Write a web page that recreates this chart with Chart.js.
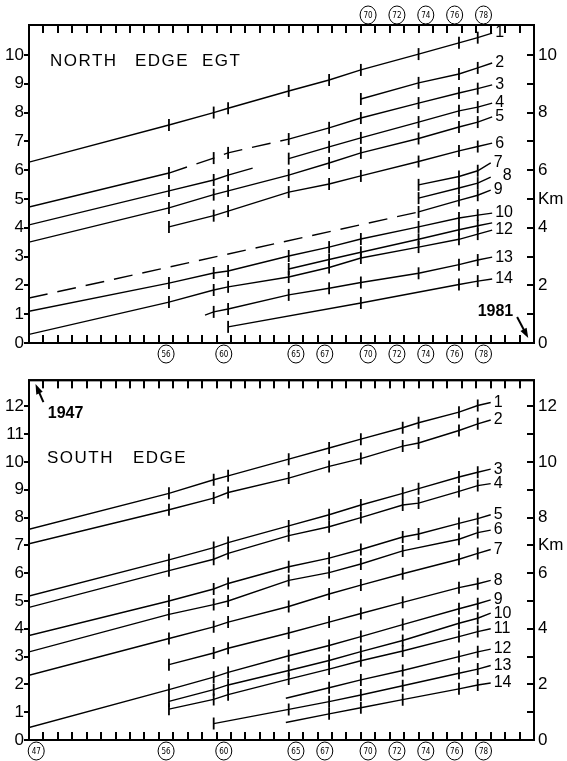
<!DOCTYPE html>
<html>
<head>
<meta charset="utf-8">
<script src="https://cdn.jsdelivr.net/npm/chart.js@4/dist/chart.umd.min.js"></script>
<style>
  html, body { margin: 0; padding: 0; background: #fff; }
  canvas { position: absolute; left: 0; }
  #north { top: 0; }
  #south { top: 365px; }
</style>
</head>
<body>
<canvas id="north" width="567" height="365"></canvas>
<canvas id="south" width="567" height="396"></canvas>
<script>
// survey epochs (year - 1900) where a position mark is drawn on a line
const epochs = [46.5, 56.2, 59.3, 60.3, 64.5, 67.3, 69.5, 72.4, 73.5, 76.3, 77.6];

// small inward ticks along top and bottom edges
const yearTicks = [47.5, 48.5, 49.5, 50.5, 51.5, 52.5, 53.5, 54.5, 55.5, 56.5, 57.5, 58.5,
  59.5, 60.5, 61.5, 62.5, 63.5, 64.5, 65.5, 66.5, 67.5, 68.5, 69.5, 70.5, 71.5, 72.5,
  73.5, 74.5, 75.5, 76.5, 77.5, 78.5, 79.5, 80.5];

const northTopYears = [70, 72, 74, 76, 78];
const northBottomYears = [56, 60, 65, 67, 70, 72, 74, 76, 78];
const southBottomYears = [47, 56, 60, 65, 67, 70, 72, 74, 76, 78];

const northKmTicks = [0, 1, 2, 3, 4, 5, 6, 7, 8, 9, 10];
const southKmTicks = [0, 1, 2, 3, 4, 5, 6, 7, 8, 9, 10, 11, 12];

// NORTH EDGE EGT  — [year, km]
const north1 = [[46.5, 6.28], [56.2, 7.57], [59.3, 8.0], [60.3, 8.15], [64.5, 8.75], [67.3, 9.13], [69.5, 9.48], [73.5, 10.03], [76.3, 10.42], [77.6, 10.6], [78.6, 10.76]];
const north2 = [[69.5, 8.47], [73.5, 9.03], [76.3, 9.34], [77.6, 9.55], [78.6, 9.72]];
const north3 = [[46.5, 4.72], [56.2, 5.9], [59.3, 6.42], [60.3, 6.6], [64.5, 7.08], [67.3, 7.47], [69.5, 7.81], [73.5, 8.33], [76.3, 8.68], [77.6, 8.83], [78.6, 8.96]];
const north4 = [[64.5, 6.4], [67.3, 6.81], [69.5, 7.12], [73.5, 7.67], [76.3, 8.06], [77.6, 8.19], [78.6, 8.33]];
const north5 = [[46.5, 3.5], [56.2, 4.69], [59.3, 5.15], [60.3, 5.28], [64.5, 5.83], [67.3, 6.25], [69.5, 6.6], [73.5, 7.1], [76.3, 7.5], [77.6, 7.67], [78.6, 7.85]];
const north6 = [[56.2, 4.03], [59.3, 4.42], [60.3, 4.58], [64.5, 5.24], [67.3, 5.52], [69.5, 5.8], [73.5, 6.3], [76.3, 6.67], [77.6, 6.82], [78.6, 6.94]];
const northLost = [[46.5, 4.1], [56.2, 5.28], [59.3, 5.66], [60.3, 5.83], [62.0, 6.07]];
const north7 = [[73.5, 5.49], [76.3, 5.78], [77.6, 5.98], [78.5, 6.25]];
const north8 = [[73.5, 5.03], [76.3, 5.38], [77.6, 5.55], [78.5, 5.76]];
const north9 = [[46.5, 1.56], [73.5, 4.55], [76.3, 4.95], [77.6, 5.13], [78.5, 5.31]];
const north10 = [[46.5, 1.1], [56.2, 2.08], [59.3, 2.43], [60.3, 2.5], [64.5, 3.02], [67.3, 3.33], [69.5, 3.61], [73.5, 4.03], [76.3, 4.34], [77.6, 4.44], [78.6, 4.51]];
const north11 = [[64.5, 2.57], [67.3, 2.9], [69.5, 3.15], [73.5, 3.6], [76.3, 3.93], [77.6, 4.07], [78.6, 4.17]];
const north12 = [[46.5, 0.3], [56.2, 1.42], [59.3, 1.84], [60.3, 1.95], [64.5, 2.29], [67.3, 2.62], [69.5, 2.95], [73.5, 3.33], [76.3, 3.6], [77.6, 3.78], [78.6, 3.92]];
const north13 = [[58.7, 0.97], [59.3, 1.08], [60.3, 1.18], [64.5, 1.67], [67.3, 1.9], [69.5, 2.1], [73.5, 2.42], [76.3, 2.72], [77.6, 2.88], [78.6, 2.98]];
const north14 = [[60.3, 0.56], [69.5, 1.39], [76.3, 2.03], [77.6, 2.15], [78.6, 2.22]];

const northLines = [north1, north2, north3, north4, north5, north6, northLost, north7, north8, north9, north10, north11, north12, north13, north14];
const northNames = ['1', '2', '3', '4', '5', '6', '', '7', '8', '9', '10', '', '12', '13', '14'];
// [line index, from year, to year] drawn dashed
const northDashed = [[2, 56.2, 64.5], [9, 46.5, 73.5]];

// SOUTH EDGE — [year, km]
const south1 = [[46.5, 7.58], [56.2, 8.87], [59.3, 9.36], [60.3, 9.5], [64.5, 10.1], [67.3, 10.5], [69.5, 10.82], [72.4, 11.23], [73.5, 11.41], [76.3, 11.79], [77.6, 12.03], [78.5, 12.14]];
const south2 = [[46.5, 7.06], [56.2, 8.28], [59.3, 8.7], [60.3, 8.9], [64.5, 9.42], [67.3, 9.84], [69.5, 10.12], [72.4, 10.57], [73.5, 10.68], [76.3, 11.13], [77.6, 11.37], [78.5, 11.51]];
const south3 = [[46.5, 5.18], [56.2, 6.48], [59.3, 6.92], [60.3, 7.1], [64.5, 7.7], [67.3, 8.1], [69.5, 8.45], [72.4, 8.87], [73.5, 9.04], [76.3, 9.46], [77.6, 9.63], [78.5, 9.74]];
const south4 = [[46.5, 4.77], [56.2, 6.09], [59.3, 6.5], [60.3, 6.71], [64.5, 7.35], [67.3, 7.67], [69.5, 8.0], [72.4, 8.45], [73.5, 8.52], [76.3, 8.94], [77.6, 9.15], [78.5, 9.22]];
const south5 = [[46.5, 3.76], [56.2, 5.0], [59.3, 5.43], [60.3, 5.63], [64.5, 6.23], [67.3, 6.54], [69.5, 6.85], [72.4, 7.3], [73.5, 7.41], [76.3, 7.79], [77.6, 7.96], [78.5, 8.1]];
const south6 = [[46.5, 3.17], [56.2, 4.52], [59.3, 4.87], [60.3, 5.0], [64.5, 5.74], [67.3, 6.02], [69.5, 6.33], [72.4, 6.8], [76.3, 7.22], [77.6, 7.46], [78.5, 7.55]];
const south7 = [[46.5, 2.33], [56.2, 3.65], [59.3, 4.07], [60.3, 4.24], [64.5, 4.8], [67.3, 5.25], [69.5, 5.57], [72.4, 5.98], [76.3, 6.5], [77.6, 6.71], [78.5, 6.85]];
const south8 = [[56.2, 2.71], [59.3, 3.13], [60.3, 3.3], [64.5, 3.85], [67.3, 4.24], [69.5, 4.55], [72.4, 4.95], [76.3, 5.48], [77.6, 5.62], [78.5, 5.74]];
const south9 = [[46.5, 0.45], [56.2, 1.81], [59.3, 2.26], [60.3, 2.43], [64.5, 3.03], [67.3, 3.4], [69.5, 3.72], [72.4, 4.15], [76.3, 4.72], [77.6, 4.9], [78.5, 5.04]];
const south10 = [[56.2, 1.39], [59.3, 1.81], [60.3, 1.98], [64.5, 2.5], [67.3, 2.86], [69.5, 3.18], [72.4, 3.58], [76.3, 4.2], [77.6, 4.38], [78.5, 4.56]];
const south11 = [[56.2, 1.11], [59.3, 1.46], [60.3, 1.63], [64.5, 2.19], [67.3, 2.55], [69.5, 2.85], [72.4, 3.2], [76.3, 3.72], [77.6, 3.9], [78.5, 4.0]];
const south12 = [[64.3, 1.5], [67.3, 1.88], [69.5, 2.16], [72.4, 2.5], [76.3, 3.0], [77.6, 3.17], [78.5, 3.27]];
const south13 = [[59.3, 0.59], [64.5, 1.1], [67.3, 1.38], [69.5, 1.62], [72.4, 1.95], [76.3, 2.4], [77.6, 2.55], [78.5, 2.68]];
const south14 = [[64.3, 0.63], [67.3, 0.94], [69.5, 1.16], [72.4, 1.45], [76.3, 1.84], [77.6, 1.98], [78.5, 2.05]];

const southLines = [south1, south2, south3, south4, south5, south6, south7, south8, south9, south10, south11, south12, south13, south14];
const southNames = ['1', '2', '3', '4', '5', '6', '7', '8', '9', '10', '11', '12', '13', '14'];

const FONT = '"Liberation Sans", Arial, sans-serif';

function isDashed(spans, i, a, b) {
  return spans.some(s => s[0] === i && a >= s[1] - 0.01 && b <= s[2] + 0.01);
}

function arrow(ctx, x0, y0, x1, y1) {
  const ang = Math.atan2(y1 - y0, x1 - x0);
  ctx.beginPath();
  ctx.lineWidth = 2;
  ctx.moveTo(x0, y0);
  ctx.lineTo(x1 - 6 * Math.cos(ang), y1 - 6 * Math.sin(ang));
  ctx.stroke();
  ctx.beginPath();
  ctx.moveTo(x1, y1);
  ctx.lineTo(x1 - 10 * Math.cos(ang) + 3.5 * Math.sin(ang), y1 - 10 * Math.sin(ang) - 3.5 * Math.cos(ang));
  ctx.lineTo(x1 - 10 * Math.cos(ang) - 3.5 * Math.sin(ang), y1 - 10 * Math.sin(ang) + 3.5 * Math.cos(ang));
  ctx.closePath();
  ctx.fill();
}

function circled(ctx, cx, cy, txt) {
  ctx.beginPath();
  ctx.lineWidth = 1;
  ctx.ellipse(cx, cy, 8, 9, 0, 0, Math.PI * 2);
  ctx.stroke();
  ctx.font = '8px "DejaVu Sans Condensed", ' + FONT;
  ctx.textAlign = 'center';
  ctx.textBaseline = 'middle';
  ctx.fillText(txt, cx, cy + 0.5);
}

// frame and all tick marks, placed through the chart's scales
function drawFrameTicks(chart, kmTicks) {
  const { ctx, chartArea: a, scales: { x, y } } = chart;
  ctx.save();
  ctx.setLineDash([]);
  ctx.fillStyle = '#000';
  ctx.strokeStyle = '#000';
  ctx.lineWidth = 2;
  ctx.strokeRect(a.left, a.top, a.right - a.left, a.bottom - a.top);
  yearTicks.forEach(v => {
    const px = Math.round(x.getPixelForValue(v));
    ctx.fillRect(px - 1, a.bottom - 8, 2, 8);
    ctx.fillRect(px - 1, a.top, 2, 8);
  });
  (kmTicks || []).forEach(v => {
    const py = Math.round(y.getPixelForValue(v));
    ctx.fillRect(a.left - 5, py - 1, 5, 2);
    ctx.fillRect(a.right - 7, py - 1, 8, 2);
  });
  ctx.restore();
}

const decor = {
  id: 'decor',
  afterDraw(chart, args, o) {
    const { ctx, chartArea: a, scales: { x, y } } = chart;
    drawFrameTicks(chart, o.kmTicks);

    ctx.save();
    ctx.strokeStyle = '#000';
    ctx.fillStyle = '#000';

    // circled year labels
    (o.topYears || []).forEach(v => circled(ctx, x.getPixelForValue(v), a.top - 10, String(v)));
    (o.bottomYears || []).forEach(v => circled(ctx, x.getPixelForValue(v), a.bottom + 11, String(v)));

    // line numbers at the right end
    ctx.font = '16px ' + FONT;
    ctx.textAlign = 'left';
    ctx.textBaseline = 'middle';
    chart.data.datasets.forEach((ds, i) => {
      const name = o.names[i];
      if (!name) return;
      const meta = chart.getDatasetMeta(i);
      const el = meta.data[meta.data.length - 1];
      const sh = (o.shift && o.shift[name]) || [0, 0];
      ctx.fillText(name, el.x + 3 + sh[0], el.y + sh[1]);
    });

    // panel title
    ctx.font = '17px ' + FONT;
    ctx.letterSpacing = '1.5px';
    ctx.textBaseline = 'middle';
    o.title.forEach(w => ctx.fillText(w[0], a.left + w[1], a.top + o.titleY));
    ctx.letterSpacing = '0px';

    // year arrows
    ctx.font = 'bold 16px ' + FONT;
    (o.notes || []).forEach(n => {
      arrow(ctx, x.getPixelForValue(n.tail[0]), y.getPixelForValue(n.tail[1]),
        x.getPixelForValue(n.tip[0]), y.getPixelForValue(n.tip[1]));
      ctx.textAlign = n.align;
      ctx.fillText(n.text, x.getPixelForValue(n.at[0]), y.getPixelForValue(n.at[1]));
    });
    ctx.restore();
  }
};

function makeChart(id, lines, o) {
  const datasets = lines.map((pts, i) => ({
    data: pts.map(p => ({ x: p[0], y: p[1] })),
    showLine: true,
    borderColor: '#000',
    borderWidth: 1.4,
    pointStyle: 'line',
    pointRotation: 90,
    pointRadius: c => (c.raw && epochs.includes(c.raw.x)) ? 6 : 0,
    pointBorderColor: '#000',
    pointBorderWidth: 1.8,
    segment: {
      borderDash: c => isDashed(o.dashed || [], i, c.p0.parsed.x, c.p1.parsed.x) ? [19, 10] : undefined
    }
  }));

  const chart = new Chart(document.getElementById(id), {
    type: 'scatter',
    data: { datasets },
    options: {
      responsive: false,
      animation: false,
      devicePixelRatio: 1,
      events: [],
      layout: { padding: { top: o.padTop, left: 0, right: 0, bottom: 0 } },
      plugins: {
        legend: { display: false },
        tooltip: { enabled: false },
        decor: o
      },
      scales: {
        x: {
          type: 'linear', min: 46.5, max: 81.5,
          grid: { display: false }, ticks: { display: false }, border: { display: false },
          afterFit: s => { s.height = o.axisH; }
        },
        y: {
          position: 'left', min: 0, max: o.ymax,
          afterBuildTicks: s => { s.ticks = o.kmTicks.map(v => ({ value: v })); },
          ticks: { autoSkip: false, color: '#000', padding: 5, font: { family: 'Liberation Sans', size: 17 } },
          grid: { display: false, drawTicks: false },
          border: { display: false },
          afterFit: s => { s.width = 29; }
        },
        yr: {
          position: 'right', min: 0, max: o.ymax,
          afterBuildTicks: s => { s.ticks = o.kmTicks.map(v => ({ value: v })); },
          ticks: {
            autoSkip: false, color: '#000', padding: 4,
            font: { family: 'Liberation Sans', size: 17 },
            callback: v => v === o.kmAt ? 'Km' : (v % 2 === 0 ? String(v) : '')
          },
          grid: { display: false, drawTicks: false },
          border: { display: false },
          afterFit: s => { s.width = 33; }
        }
      }
    },
    plugins: [decor]
  });
  // once more on top after the first render, so the edge ticks are surely visible
  drawFrameTicks(chart, o.kmTicks);
  return chart;
}

makeChart('north', northLines, {
  names: northNames, dashed: northDashed, kmTicks: northKmTicks, kmAt: 5,
  ymax: 11.04, padTop: 25, axisH: 22,
  topYears: northTopYears, bottomYears: northBottomYears,
  shift: { '8': [9, -1] },
  title: [['NORTH', 21], ['EDGE', 106], ['EGT', 173]], titleY: 36,
  notes: [{ text: '1981', tail: [80.33, 0.9], tip: [81.1, 0.17], at: [80.06, 1.08], align: 'right' }]
});

makeChart('south', southLines, {
  names: southNames, kmTicks: southKmTicks, kmAt: 7,
  ymax: 12.94, padTop: 3, axisH: 21,
  bottomYears: southBottomYears,
  title: [['SOUTH', 18], ['EDGE', 104]], titleY: 78,
  notes: [{ text: '1947', tail: [47.5, 12.15], tip: [46.95, 12.8], at: [47.8, 11.75], align: 'left' }]
});
</script>
</body>
</html>
